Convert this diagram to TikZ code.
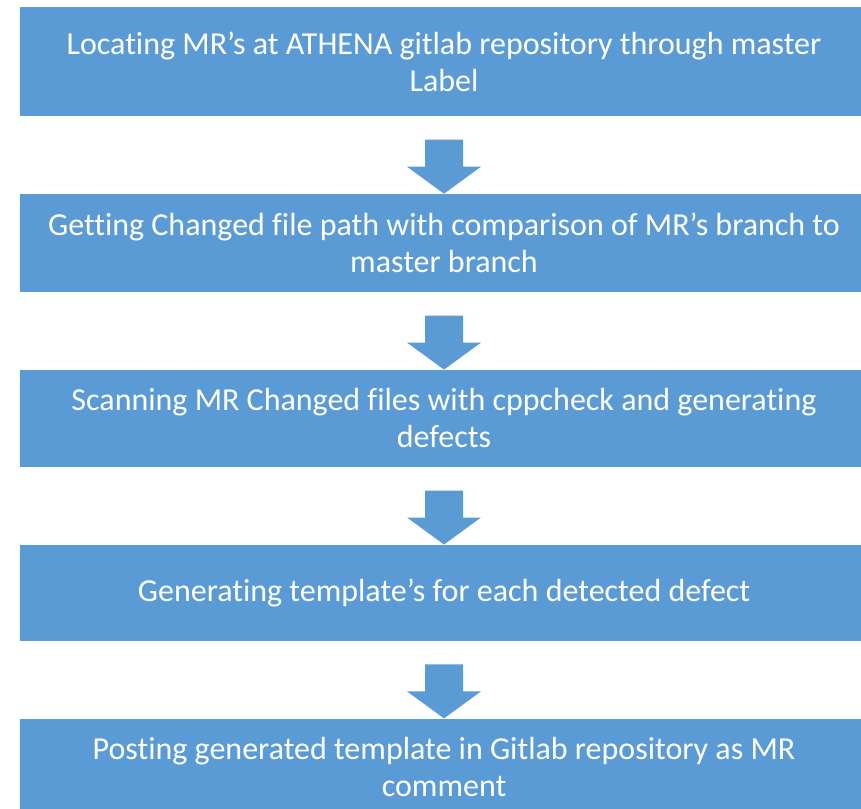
\documentclass[tikz,border=0pt]{standalone}
\usepackage{fontspec}
\setmainfont{Carlito}[Ligatures=NoCommon]
\usetikzlibrary{positioning,calc}

\definecolor{boxblue}{HTML}{5B9BD5}

% block arrow ending on the top of a step box
\newcommand{\blockarrow}[1]{%
  \fill[boxblue] (#1.north) -- ++(-37,27) -- ++(18,0) -- ++(0,27) -- ++(38,0)
    -- ++(0,-27) -- ++(18,0) -- cycle;}

\begin{document}
\begin{tikzpicture}[x=1pt, y=1pt, node distance=77.5pt,
  stepbox/.style={rectangle, fill=boxblue, draw=none, text=white, minimum width=848pt,
    align=center, font=\fontsize{32}{37}\selectfont}]

% Picture frame, same size as the reference
\clip (0,0) rectangle (861,-808);

% The five steps
\node[stepbox, minimum height=109pt] (locate) at (444,-61.5) {Locating MR’s at ATHENA gitlab repository through master\\Label};
\node[stepbox, minimum height=98pt, below=of locate] (getpath) {Getting Changed file path with comparison of MR’s branch to\\master branch};
\node[stepbox, minimum height=97pt, below=of getpath] (scan) {Scanning MR Changed files with cppcheck and generating\\defects};
\node[stepbox, minimum height=96pt, below=of scan] (template) {Generating template’s for each detected defect};
\node[stepbox, minimum height=97pt, below=of template] (post) {Posting generated template in Gitlab repository as MR\\comment};

% Block arrows between the steps
\blockarrow{getpath}
\blockarrow{scan}
\blockarrow{template}
\blockarrow{post}

\end{tikzpicture}
\end{document}
